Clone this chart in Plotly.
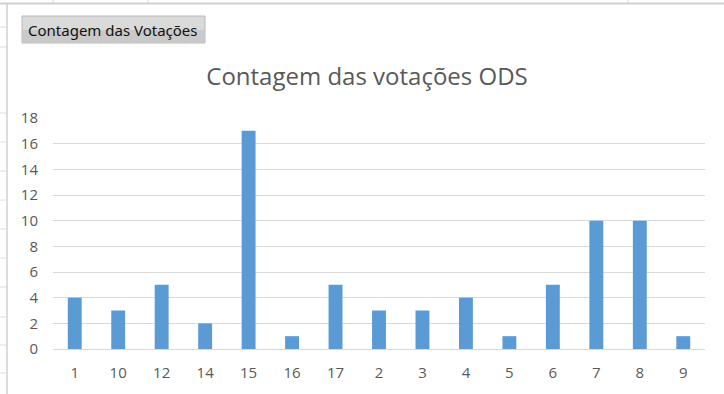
import plotly.graph_objects as go

categories = ["1", "10", "12", "14", "15", "16", "17", "2", "3", "4", "5", "6", "7", "8", "9"]
votes = [4, 3, 5, 2, 17, 1, 5, 3, 3, 4, 1, 5, 10, 10, 1]
y_ticks = [0, 2, 4, 6, 8, 10, 12, 14, 16, 18]

W, H = 724, 394
L, R, T, B = 53, 705, 118, 349

def px(x):
    return (x - L) / (R - L)

def py(y):
    return (B - y) / (B - T)

fig = go.Figure(go.Bar(
    x=categories, y=votes,
    marker=dict(color="#5B9BD5", line=dict(width=0)),
    hoverinfo="x+y",
))

shapes = []
# spreadsheet background lines
shapes.append(dict(type="line", xref="paper", yref="paper", x0=px(0), x1=px(W), y0=py(3.5), y1=py(3.5),
                   line=dict(color="#d0d0d0", width=2)))
for vx in [53, 148, 628]:
    shapes.append(dict(type="line", xref="paper", yref="paper", x0=px(vx), x1=px(vx), y0=py(0), y1=py(3),
                       line=dict(color="#d8d8d8", width=1)))
shapes.append(dict(type="line", xref="paper", yref="paper", x0=px(7), x1=px(7), y0=py(3), y1=py(H),
                   line=dict(color="#d0d0d0", width=1.5)))
for hy in [27, 47, 113, 142, 171, 200, 229, 258, 287, 317, 345, 373]:
    shapes.append(dict(type="line", xref="paper", yref="paper", x0=px(0), x1=px(6), y0=py(hy), y1=py(hy),
                       line=dict(color="#dcdcdc", width=1)))
# button (two-tone to suggest gradient)
shapes.append(dict(type="rect", xref="paper", yref="paper", x0=px(22), x1=px(205), y0=py(16), y1=py(43),
                   fillcolor="#dadada", line=dict(color="#b8b8b8", width=1), layer="below"))
shapes.append(dict(type="rect", xref="paper", yref="paper", x0=px(23), x1=px(204), y0=py(30), y1=py(42),
                   fillcolor="#c9c9c9", line=dict(width=0), layer="below"))

annotations = [
    dict(text="Contagem das Votações", xref="paper", yref="paper", x=px(26), y=py(30),
         xanchor="left", yanchor="middle", showarrow=False,
         font=dict(family="Noto Sans", size=15, color="#111111")),
]

fig.update_layout(
    width=W, height=H,
    margin=dict(l=L, r=W - R, t=T, b=H - B),
    paper_bgcolor="white", plot_bgcolor="white",
    title=dict(text="Contagem das votações ODS", x=367 / W, xanchor="center", xref="container",
               y=1 - 77 / H, yanchor="middle",
               font=dict(family="Open Sans", size=24, color="#595959")),
    bargap=0.68,
    showlegend=False,
    xaxis=dict(type="category", showgrid=False, showline=False, ticks="",
               tickfont=dict(family="Open Sans", size=15, color="#595959"), ticklabelstandoff=13),
    yaxis=dict(range=[0, 18], tickvals=y_ticks, showgrid=True, gridcolor="#d9d9d9", gridwidth=1,
               zeroline=True, zerolinecolor="#d9d9d9", zerolinewidth=1, showline=False, ticks="",
               tickfont=dict(family="Open Sans", size=15, color="#595959"), ticklabelstandoff=14),
    shapes=shapes,
    annotations=annotations,
)

fig.write_html("out.html", config={"displayModeBar": False},
               post_script="document.body.style.margin='0';")
